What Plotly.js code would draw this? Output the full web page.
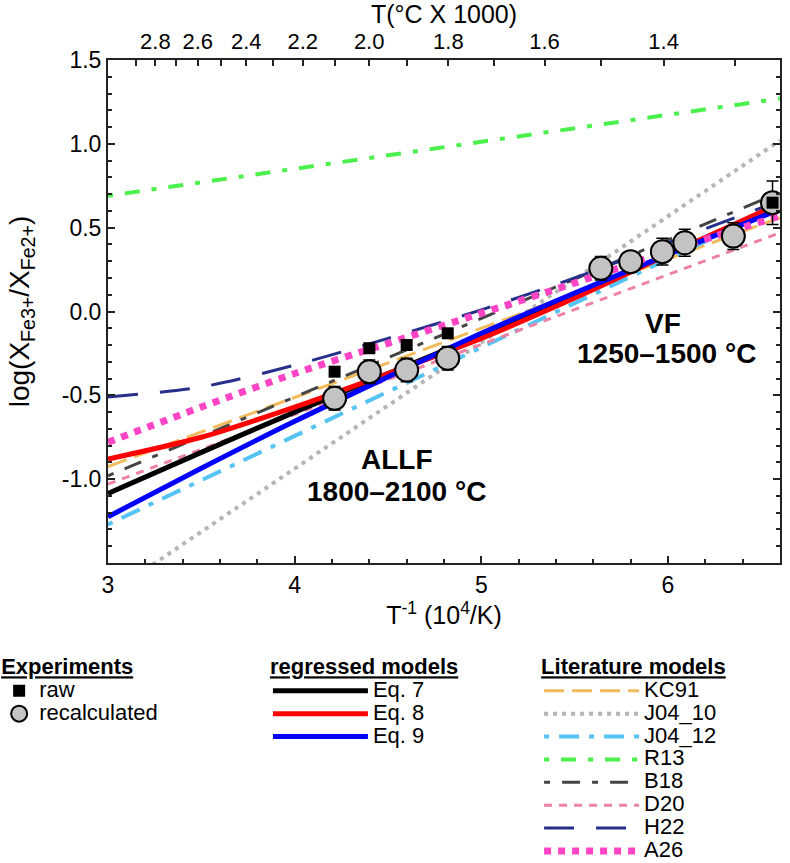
<!DOCTYPE html>
<html>
<head>
<meta charset="utf-8">
<script src="https://cdn.plot.ly/plotly-3.0.1.min.js"></script>
<style>html,body{margin:0;padding:0;background:#fff;}#chart{width:790px;height:863px;}</style>
</head>
<body>
<div id="chart"></div>
<script>
// ---------- data ----------
// experiments
var expX = [4.214, 4.40, 4.60, 4.82, 5.64, 5.80, 5.97, 6.09, 6.35, 6.56];
var recalcY = [-0.518, -0.359, -0.349, -0.279, 0.258, 0.297, 0.357, 0.41, 0.45, 0.649];
var recalcErr = [0.07, 0.07, 0.07, 0.07, 0.07, 0.06, 0.08, 0.08, 0.08, 0.13];
var rawX = [4.214, 4.40, 4.60, 4.82, 6.56];
var rawY = [-0.359, -0.219, -0.20, -0.13, 0.649];

// regressed models
var eqX = [3.0, 3.5, 4.0, 4.5, 5.0, 5.5, 6.0, 6.6];
var eq7Y = [-1.085, -0.84, -0.60, -0.37, -0.14, 0.10, 0.34, 0.64];
var eq8Y = [-0.88, -0.75, -0.57, -0.37, -0.16, 0.08, 0.34, 0.645];
var eq9Y = [-1.224, -0.935, -0.655, -0.39, -0.13, 0.11, 0.34, 0.61];

// literature models
var kc91X = [3.0, 6.6], kc91Y = [-0.925, 0.56];
var j0410X = [3.0, 6.6], j0410Y = [-1.69, 1.02];
var j0412X = [3.0, 6.6], j0412Y = [-1.27, 0.63];
var r13X = [3.0, 6.6], r13Y = [0.69, 1.27];
var b18X = [3.0, 6.6], b18Y = [-0.98, 0.71];
var d20X = [3.0, 6.6], d20Y = [-1.03, 0.47];
var h22X = [3.0, 3.5, 4.0, 4.5, 5.0, 5.5, 6.0, 6.6];
var h22Y = [-0.51, -0.45, -0.32, -0.16, 0.01, 0.20, 0.41, 0.66];
var a26X = [3.0, 3.5, 4.0, 4.5, 5.0, 5.5, 6.0, 6.6];
var a26Y = [-0.78, -0.57, -0.37, -0.19, -0.01, 0.17, 0.36, 0.57];

// axis ticks
var xTickVals = [3, 4, 5, 6];
var yTickVals = [-1.0, -0.5, 0.0, 0.5, 1.0, 1.5];
var yTickText = ['-1.0', '-0.5', '0.0', '0.5', '1.0', '1.5'];
var topLabelTemps = [2.8, 2.6, 2.4, 2.2, 2.0, 1.8, 1.6, 1.4];   // T(°C x 1000)
var topLabelText = ['2.8', '2.6', '2.4', '2.2', '2.0', '1.8', '1.6', '1.4'];
var topMinorTemps = [2.9, 2.7, 2.5, 2.3, 2.1, 1.9, 1.7, 1.5, 1.3];
// top axis positions: 10^4/K with K = T(°C) + 273.15
function toInvK(t) { return 10 / (t + 0.27315); }

var FONT = 'Liberation Sans, Arial, sans-serif';
function big(t) { return '<span style="font-size:22px">' + t + '</span>'; }

function lineTrace(x, y, name, color, width, dash, legend, shape) {
  return {
    x: x, y: y, name: big(name), type: 'scatter', mode: 'lines',
    line: {color: color, width: width, dash: dash, shape: shape || 'spline', smoothing: 0.8},
    legend: legend, hoverinfo: 'skip'
  };
}

var traces = [
  {x: [], y: [], xaxis: 'x2', yaxis: 'y', type: 'scatter', mode: 'markers', showlegend: false, hoverinfo: 'skip'},
  lineTrace(kc91X, kc91Y, 'KC91', '#f2bb5c', 3, '20px,8px', 'legend3', 'linear'),
  lineTrace(j0410X, j0410Y, 'J04_10', '#b5b5b8', 4, '4px,5px', 'legend3', 'linear'),
  lineTrace(j0412X, j0412Y, 'J04_12', '#55c3f3', 4, '5px,10px,20px,10px', 'legend3', 'linear'),
  lineTrace(r13X, r13Y, 'R13', '#4cf04c', 4, '5px,12px,15px,12px', 'legend3', 'linear'),
  lineTrace(b18X, b18Y, 'B18', '#444444', 3, '6px,12px,18px,12px', 'legend3', 'linear'),
  lineTrace(d20X, d20Y, 'D20', '#ee82a6', 3, '8px,7px', 'legend3', 'linear'),
  lineTrace(h22X, h22Y, 'H22', '#262f8a', 3, '30px,22px', 'legend3'),
  lineTrace(eqX, eq7Y, 'Eq. 7', '#000000', 5, 'solid', 'legend2'),
  lineTrace(eqX, eq8Y, 'Eq. 8', '#ff0000', 5, 'solid', 'legend2'),
  lineTrace(eqX, eq9Y, 'Eq. 9', '#0000ff', 5, 'solid', 'legend2'),
  lineTrace(a26X, a26Y, 'A26', '#ff45c6', 7, '7px,7px', 'legend3'),
  {
    x: expX, y: recalcY, name: big('recalculated'), type: 'scatter', mode: 'markers',
    marker: {symbol: 'circle', size: 23, color: '#c3c3c3', line: {color: '#000', width: 2}},
    error_y: {type: 'data', array: recalcErr, visible: true, color: '#000', thickness: 1.5, width: 6},
    legend: 'legend', legendrank: 2, hoverinfo: 'skip'
  },
  {
    x: rawX, y: rawY, name: big('raw'), type: 'scatter', mode: 'markers',
    marker: {symbol: 'square', size: 12, color: '#000'},
    legend: 'legend', legendrank: 1, hoverinfo: 'skip'
  }
];

var legendCommon = {
  xref: 'paper', yref: 'paper', xanchor: 'left', yanchor: 'top',
  bgcolor: 'rgba(0,0,0,0)', borderwidth: 0,
  font: {family: FONT, size: 15.3, color: '#000'},
  tracegroupgap: 0
};
function legendTitle(t) {
  return {text: '<span style="font-size:22px"><b>' + t + '</b></span>', side: 'top',
          font: {family: FONT, size: 16, color: '#000', lineposition: 'under'}};
}
var legY = -0.180;

var layout = {
  width: 790, height: 863,
  margin: {l: 108, r: 10, t: 60, b: 300, autoexpand: false},
  paper_bgcolor: '#fff', plot_bgcolor: '#fff',
  font: {family: FONT, size: 23, color: '#000'},
  showlegend: true,
  xaxis: {
    range: [3, 6.6], tickvals: xTickVals, ticktext: xTickVals.map(String),
    ticks: 'inside', ticklen: 7, tickwidth: 2, tickcolor: '#222',
    minor: {dtick: 0.2, tick0: 3, ticks: 'inside', ticklen: 4, tickwidth: 2, tickcolor: '#222'},
    showline: true, linecolor: '#222', linewidth: 2, mirror: true,
    showgrid: false, zeroline: false,
    tickfont: {family: FONT, size: 23},
    title: {text: 'T<sup>-1</sup> (10<sup>4</sup>/K)', font: {family: FONT, size: 25}, standoff: 8}
  },
  xaxis2: {
    overlaying: 'x', anchor: 'y', side: 'top', range: [3, 6.6],
    tickmode: 'array', tickvals: topLabelTemps.map(toInvK), ticktext: topLabelText, tickangle: 0,
    ticks: 'inside', ticklen: 6, tickwidth: 2, tickcolor: '#222',
    minor: {tickmode: 'array', tickvals: topMinorTemps.map(toInvK), ticks: 'inside', ticklen: 6, tickwidth: 2, tickcolor: '#222'},
    showline: true, linecolor: '#222', linewidth: 2,
    showgrid: false, zeroline: false,
    tickfont: {family: FONT, size: 22},
    title: {text: 'T(°C X 1000)', font: {family: FONT, size: 25}, standoff: 4}
  },
  yaxis: {
    range: [-1.5, 1.5], tickvals: yTickVals, ticktext: yTickText,
    ticks: 'inside', ticklen: 7, tickwidth: 2, tickcolor: '#222',
    minor: {dtick: 0.1, tick0: -1.5, ticks: 'inside', ticklen: 4, tickwidth: 2, tickcolor: '#222'},
    showline: true, linecolor: '#222', linewidth: 2, mirror: 'ticks',
    showgrid: false, zeroline: false,
    tickfont: {family: FONT, size: 23},
    title: {text: 'log(X<sub>Fe3+</sub>/X<sub>Fe2+</sub>)', font: {family: FONT, size: 28}, standoff: 24}
  },
  legend: Object.assign({}, legendCommon, {x: -0.162, y: legY, itemwidth: 30, title: legendTitle('Experiments')}),
  legend2: Object.assign({}, legendCommon, {x: 0.238, y: legY, itemwidth: 95, title: legendTitle('regressed models')}),
  legend3: Object.assign({}, legendCommon, {x: 0.6415, y: legY, itemwidth: 95, title: legendTitle('Literature models')}),
  annotations: [
    {x: 4.548, y: -0.88, xref: 'x', yref: 'y', showarrow: false,
     text: '<b>ALLF</b>', font: {family: FONT, size: 28, color: '#000'}},
    {x: 4.548, y: -1.076, xref: 'x', yref: 'y', showarrow: false,
     text: '<b>1800–2100 °C</b>', font: {family: FONT, size: 28, color: '#000'}},
    {x: 5.973, y: -0.069, xref: 'x', yref: 'y', showarrow: false,
     text: '<b>VF</b>', font: {family: FONT, size: 28, color: '#000'}},
    {x: 5.994, y: -0.248, xref: 'x', yref: 'y', showarrow: false,
     text: '<b>1250–1500 °C</b>', font: {family: FONT, size: 28, color: '#000'}}
  ]
};

Plotly.newPlot('chart', traces, layout, {displayModeBar: false, staticPlot: true});
</script>
</body>
</html>
